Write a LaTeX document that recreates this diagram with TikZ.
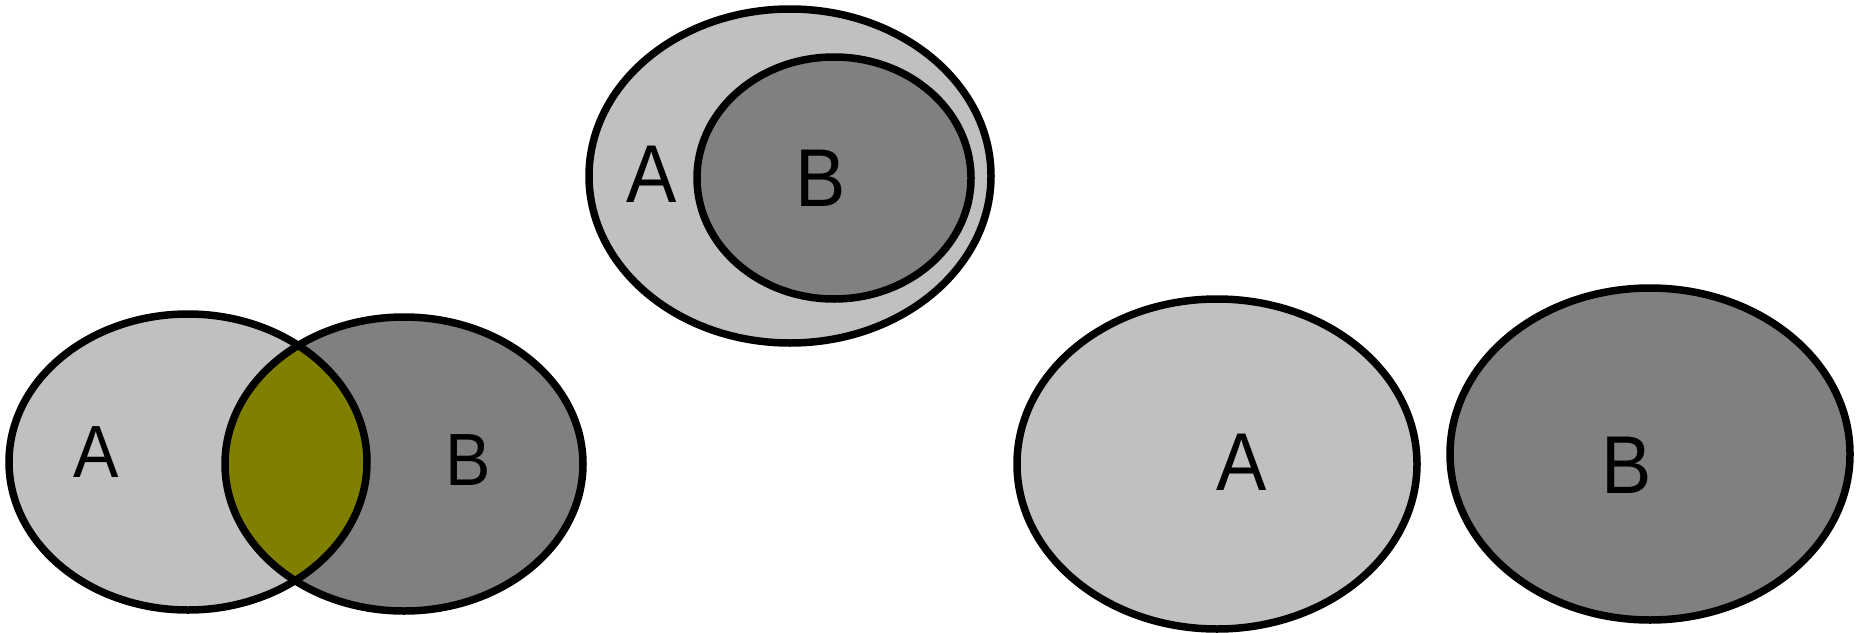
\documentclass[tikz,border=0pt]{standalone}
\usepackage{fontspec}
\setmainfont{Liberation Sans}
\definecolor{setA}{HTML}{C0C0C0}
\definecolor{setB}{HTML}{808080}
\definecolor{meet}{HTML}{808000}
\begin{document}
\begin{tikzpicture}[x=1pt,y=-1pt,
  outline/.style={draw=black,line width=7.5pt},
  lbl/.style={inner sep=0pt,xscale=0.92,font=\fontsize{74}{74}\selectfont},
  lblbig/.style={inner sep=0pt,xscale=0.92,font=\fontsize{82}{82}\selectfont}]
\useasboundingbox (0,0) rectangle (1857,632);

% intersecting sets
\fill[setA] (188,462) ellipse [x radius=179,y radius=148];
\fill[setB] (404,464) ellipse [x radius=179,y radius=147];
\begin{scope}
  \clip (188,462) ellipse [x radius=179,y radius=148];
  \fill[meet] (404,464) ellipse [x radius=179,y radius=147];
\end{scope}
\draw[outline] (188,462) ellipse [x radius=179,y radius=148];
\draw[outline] (404,464) ellipse [x radius=179,y radius=147];
\node[lbl] (lA) at (96,452) {A};
\node[lbl] (lB) at (468,460) {B};

% subset
\draw[outline,fill=setA] (790,176) ellipse [x radius=201,y radius=167];
\draw[outline,fill=setB] (834,178) ellipse [x radius=137,y radius=121];
\node[lblbig] (tA) at (652,174) {A};
\node[lblbig] (tB) at (821,178) {B};

% disjoint sets
\draw[outline,fill=setA] (1217,464) ellipse [x radius=200,y radius=165];
\draw[outline,fill=setB] (1650,454) ellipse [x radius=200,y radius=166];
\node[lblbig] (rA) at (1242,462) {A};
\node[lblbig] (rB) at (1627,465) {B};
\end{tikzpicture}
\end{document}
